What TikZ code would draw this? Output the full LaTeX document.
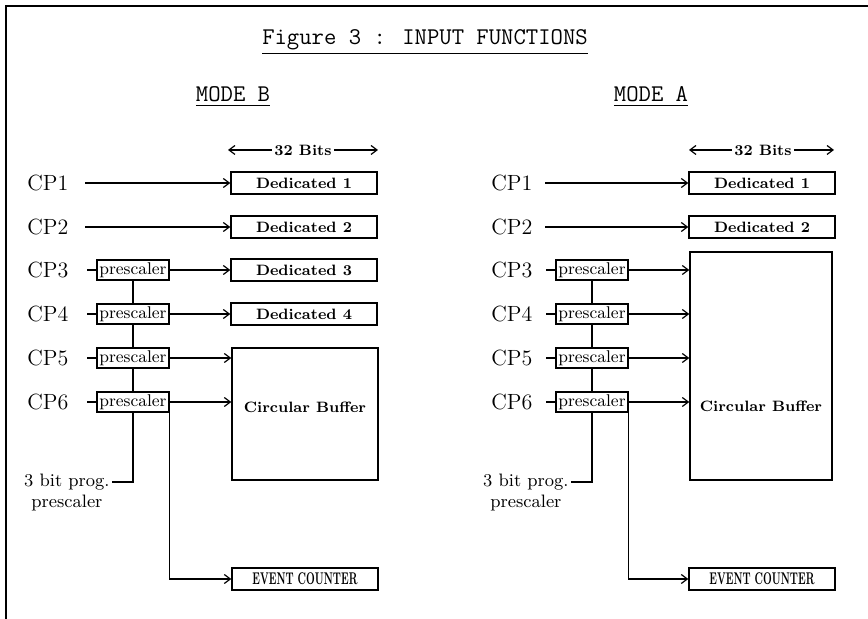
\documentclass[tikz,border=0pt]{standalone}
\usepackage{graphicx}
\usetikzlibrary{arrows.meta,positioning}
\newcommand{\narrowtxt}[1]{\scalebox{0.58}[1]{#1}}

\begin{document}
\begin{tikzpicture}[x=0.5pt,y=-0.5pt,
  every node/.style={inner sep=1pt},
  reg/.style={draw,line width=0.7pt,minimum width=73pt,minimum height=11pt,inner sep=0pt,font=\fontsize{7.5}{8}\selectfont\bfseries},
  pre/.style={draw,line width=0.7pt,minimum width=36pt,minimum height=10pt,inner sep=0pt,font=\fontsize{8.5}{9}\selectfont},
  cp/.style={anchor=west,font=\fontsize{11}{13}\selectfont},
  hd/.style={anchor=base,font=\fontsize{12}{14}\selectfont\ttfamily},
  bits/.style={font=\fontsize{7.5}{8}\selectfont\bfseries},
  lbl/.style={font=\fontsize{9}{10}\selectfont},
  sig/.style={line width=0.6pt,-{Straight Barb[length=3pt,width=4.5pt]}},
  wire/.style={line width=0.6pt}]

\useasboundingbox (0,0) rectangle (868,619);
\draw[line width=1pt] (6,619) -- (6,6) -- (868,6);

\node[hd] (title) at (425,45) {\underline{Figure 3 : INPUT FUNCTIONS}};
\node[hd] (modeB) at (233,102) {\underline{MODE B}};
\node[hd] (modeA) at (651,102) {\underline{MODE A}};

% channel labels
\foreach \i/\y in {1/183,2/227,3/270,4/314,5/358,6/402}{
  \node[cp] (cpB\i) at (25,\y) {CP\i};
  \node[cp] (cpA\i) at (489,\y) {CP\i};
}
\foreach \i/\y in {3/270,4/314,5/358,6/402}{
  \node[pre] (preB\i) at (133,\y) {prescaler};
  \node[pre] (preA\i) at (592,\y) {prescaler};
  \coordinate (inB\i) at (87,\y);
  \coordinate (inA\i) at (546,\y);
}
\coordinate (inB1) at (85,183);
\coordinate (inB2) at (85,227);
\coordinate (inA1) at (545,183);
\coordinate (inA2) at (545,227);

% Mode B
\node[bits] (bitsB) at (303,150) {32 Bits};
\coordinate (bitsBl) at (228,150);
\coordinate (bitsBr) at (378,150);
\draw[sig] (bitsB.west) -- (bitsBl);
\draw[sig] (bitsB.east) -- (bitsBr);

\node[reg] (dedB1) at (304,183) {Dedicated 1};
\node[reg] (dedB2) at (304,227) {Dedicated 2};
\node[reg] (dedB3) at (304,270) {Dedicated 3};
\node[reg] (dedB4) at (304,314) {Dedicated 4};
\node[reg,minimum height=66pt,label={[bits,yshift=3.5pt]center:Circular Buffer}] (bufB) at (305,414) {};
\node[reg,font=\fontsize{8.5}{9}\selectfont\bfseries] (evB) at (305,579) {\narrowtxt{EVENT COUNTER}};
\node[lbl,anchor=east] (progB1) at (112,482) {3 bit prog.};
\node[lbl,below=0pt of progB1] (progB2) {prescaler};

\draw[sig] (inB1) -- (dedB1.west);
\draw[sig] (inB2) -- (dedB2.west);
\foreach \i in {3,...,6} \draw[wire] (inB\i) -- (preB\i.west);
\draw[sig] (preB3.east) -- (dedB3.west);
\draw[sig] (preB4.east) -- (dedB4.west);
\draw[sig] (preB5.east) -- (preB5.east -| bufB.west);
\draw[sig] (preB6.east) -- (preB6.east -| bufB.west);
\draw[wire] (preB3) -- (preB4) -- (preB5) -- (preB6);
\draw[wire] (preB6) |- (progB1.east);
\draw[sig] (preB6.south east) |- (evB.west);

% Mode A
\node[bits] (bitsA) at (763,150) {32 Bits};
\coordinate (bitsAl) at (689,150);
\coordinate (bitsAr) at (834,150);
\draw[sig] (bitsA.west) -- (bitsAl);
\draw[sig] (bitsA.east) -- (bitsAr);

\node[reg] (dedA1) at (762,183) {Dedicated 1};
\node[reg] (dedA2) at (762,227) {Dedicated 2};
\node[reg,minimum width=71pt,minimum height=114pt,label={[bits,yshift=-20pt]center:Circular Buffer}] (bufA) at (761,366) {};
\node[reg,font=\fontsize{8.5}{9}\selectfont\bfseries] (evA) at (762,579) {\narrowtxt{EVENT COUNTER}};
\node[lbl,anchor=east] (progA1) at (571,482) {3 bit prog.};
\node[lbl,below=0pt of progA1] (progA2) {prescaler};

\draw[sig] (inA1) -- (dedA1.west);
\draw[sig] (inA2) -- (dedA2.west);
\foreach \i in {3,...,6}{
  \draw[wire] (inA\i) -- (preA\i.west);
  \draw[sig] (preA\i.east) -- (preA\i.east -| bufA.west);
}
\draw[wire] (preA3) -- (preA4) -- (preA5) -- (preA6);
\draw[wire] (preA6) |- (progA1.east);
\draw[sig] (preA6.south east) |- (evA.west);
\end{tikzpicture}
\end{document}
